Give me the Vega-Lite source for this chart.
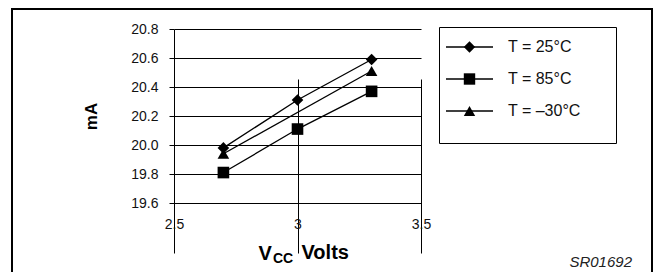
{
  "$schema": "https://vega.github.io/schema/vega-lite/v6.json",
  "width": 640,
  "height": 264,
  "autosize": "none",
  "padding": {"left": 12, "top": 9, "right": 2, "bottom": 0},
  "background": "white",
  "config": {
    "font": "Liberation Sans",
    "view": {"stroke": "black", "strokeWidth": 2}
  },
  "title": {
    "text": "SR01692", "orient": "bottom", "anchor": "end", "frame": "group",
    "offset": -18, "dx": -20, "fontSize": 15, "fontStyle": "italic",
    "fontWeight": "normal", "color": "#222"
  },
  "data": {
    "values": [
      {"series": "T = 25°C", "v": 2.7, "ma": 19.98},
      {"series": "T = 25°C", "v": 3.0, "ma": 20.31},
      {"series": "T = 25°C", "v": 3.3, "ma": 20.59},
      {"series": "T = 85°C", "v": 2.7, "ma": 19.81},
      {"series": "T = 85°C", "v": 3.0, "ma": 20.11},
      {"series": "T = 85°C", "v": 3.3, "ma": 20.37},
      {"series": "T = –30°C", "v": 2.7, "ma": 19.94},
      {"series": "T = –30°C", "v": 3.3, "ma": 20.51}
    ]
  },
  "layer": [
    {
      "mark": {"type": "line", "strokeWidth": 1.3},
      "encoding": {
        "x": {
          "field": "v", "type": "quantitative",
          "scale": {"domain": [2.5, 3.5], "range": [162, 409], "nice": false, "zero": false},
          "axis": {
            "orient": "bottom", "offset": -70,
            "values": [2.5, 3, 3.5], "format": "~g",
            "grid": true, "gridColor": "black", "gridWidth": 1, "gridOpacity": 1,
            "domainColor": "black", "domainWidth": 1,
            "tickColor": "black", "tickSize": 5, "tickWidth": 1,
            "labelFontSize": 14, "labelColor": "#111", "labelPadding": 9, "labelDx": 2,
            "labelFlush": false, "labelOverlap": false,
            "title": "V",
            "titleFontSize": 20, "titleFontWeight": "bold", "titleColor": "black",
            "titleX": 246, "titleY": 56, "titleAlign": "left", "titleBaseline": "alphabetic"
          }
        },
        "y": {
          "field": "ma", "type": "quantitative",
          "scale": {"domain": [19.6, 20.8], "range": [194, 20], "nice": false, "zero": false},
          "axis": {
            "orient": "left", "offset": -162,
            "values": [19.6, 19.8, 20.0, 20.2, 20.4, 20.6, 20.8], "format": ".1f",
            "grid": true, "gridColor": "black", "gridWidth": 1, "gridOpacity": 1,
            "domainColor": "black", "domainWidth": 1,
            "tickColor": "black", "tickSize": 5, "tickWidth": 1,
            "labelFontSize": 14, "labelColor": "#111", "labelPadding": 11,
            "labelFlush": false, "labelOverlap": false,
            "title": "mA", "titleFontSize": 17, "titleFontWeight": "bold", "titleColor": "black",
            "titleX": -74, "titleY": 107
          }
        },
        "color": {
          "field": "series", "type": "nominal",
          "scale": {"range": ["black", "black", "black"]},
          "legend": {
            "orient": "none", "legendX": 427, "legendY": 18,
            "padding": 6, "title": null,
            "clipHeight": 28, "rowPadding": 4,
            "symbolType": "stroke", "symbolSize": 2209, "symbolOffset": 0,
            "symbolStrokeColor": "black", "symbolStrokeWidth": 1.3,
            "labelOffset": 14, "labelFontSize": 16, "labelColor": "#111"
          }
        },
        "detail": {"field": "series"}
      }
    },
    {
      "mark": {"type": "point", "filled": true, "color": "black", "size": 135, "opacity": 1},
      "encoding": {
        "x": {
          "field": "v", "type": "quantitative",
          "scale": {"domain": [2.5, 3.5], "range": [162, 409], "nice": false, "zero": false},
          "axis": {
            "orient": "bottom", "offset": -70,
            "domain": false, "ticks": false, "labels": false, "grid": false,
            "title": "CC", "titleFontSize": 14, "titleFontWeight": "bold", "titleColor": "black",
            "titleX": 260.5, "titleY": 59, "titleAlign": "left", "titleBaseline": "alphabetic"
          }
        },
        "y": {
          "field": "ma", "type": "quantitative",
          "scale": {"domain": [19.6, 20.8], "range": [194, 20], "nice": false, "zero": false},
          "axis": {
            "orient": "left", "offset": -162,
            "domain": false, "ticks": false, "labels": false, "grid": false,
            "title": "Volts", "titleAngle": 0, "titleFontSize": 20,
            "titleFontWeight": "bold", "titleColor": "black",
            "titleX": 127, "titleY": 249.7, "titleAlign": "left", "titleBaseline": "alphabetic"
          }
        },
        "shape": {
          "field": "series", "type": "nominal",
          "scale": {
            "domain": ["T = 25°C", "T = 85°C", "T = –30°C"],
            "range": ["diamond", "square", "triangle-up"]
          },
          "legend": {
            "orient": "none", "legendX": 427, "legendY": 18,
            "strokeColor": "black", "padding": 6,
            "title": "\u00a0", "titleOrient": "bottom", "titleFontSize": 10, "titlePadding": 2,
            "clipHeight": 28, "rowPadding": 4,
            "symbolSize": 130, "symbolOffset": 18,
            "symbolFillColor": "black", "symbolStrokeColor": "black", "symbolStrokeWidth": 1,
            "labelExpr": "''", "labelOffset": 134
          }
        }
      }
    }
  ],
  "resolve": {"axis": {"x": "independent", "y": "independent"}}
}
